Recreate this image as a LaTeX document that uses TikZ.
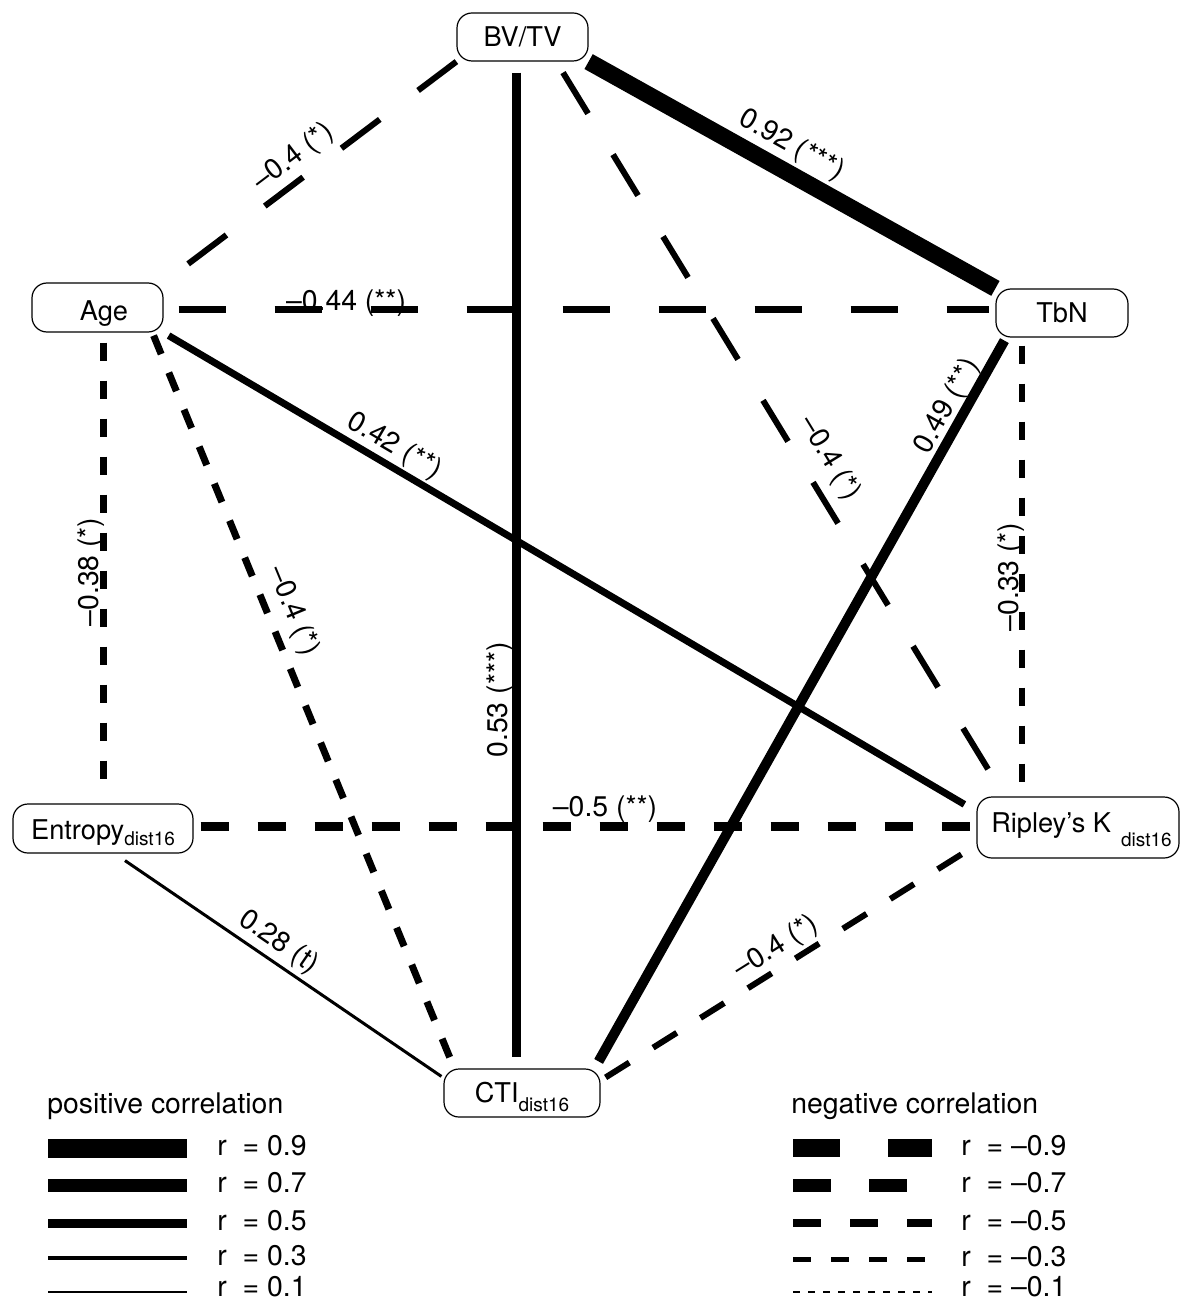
\documentclass[tikz,border=0pt]{standalone}
\usepackage{fontspec}
\setmainfont{TeX Gyre Heros}
\usetikzlibrary{calc}
\newcommand{\dsub}[1]{\raisebox{-#1}{\fontsize{9.5}{11}\selectfont dist16}}
\begin{document}
\begin{tikzpicture}[x=0.5pt,y=-0.5pt,
  box/.style={draw, line width=0.6pt, rounded corners=7.5pt, inner sep=0pt, text height=9.8pt, text depth=0pt, font=\fontsize{13.6}{16}\selectfont},
  lab/.style={inner sep=0pt, text height=10.2pt, text depth=0pt, font=\fontsize{14.2}{17}\selectfont},
  legtxt/.style={anchor=base west, inner sep=0pt, font=\fontsize{14.2}{17}\selectfont},
]
\useasboundingbox (0,0) rectangle (1181,1299);
% nodes
\node[box, minimum width=65.5pt, minimum height=24pt] (bv) at (522.5,37) {BV/TV};
\node[box, minimum width=65.5pt, minimum height=24.5pt] (age) at (97.5,307.5) {\hspace{6.5pt}\raisebox{-1.75pt}{Age}};
\node[box, minimum width=66pt, minimum height=24pt] (tbn) at (1062,313) {TbN\hspace{14.5pt}};
\node[box, minimum width=90pt, minimum height=24.5pt] (ent) at (103,828.5) {\raisebox{-0.75pt}{Entropy\dsub{3pt}}\hspace{5pt}};
\node[box, minimum width=101pt, minimum height=30.5pt] (rip) at (1078,827.5) {\hspace{3.5pt}\raisebox{2.25pt}{Ripley’s K\hspace{5pt}\dsub{7pt}}};
\node[box, minimum width=78pt, minimum height=24pt] (cti) at (522,1093) {CTI\dsub{4.5pt}\hspace{4.5pt}};
% edges
\draw[line width=3pt, dash pattern=on 24pt off 24pt] (bv.south west) -- (age.north east);
\draw[line width=8.5pt] (bv.south east) -- (tbn.north west);
\draw[line width=4.5pt] ($(bv.south)+(-6,11)$) -- ($(cti.north)+(-5.5,-11)$);
\draw[line width=3pt, dash pattern=on 24pt off 24pt] ($(bv.south)+(40.5,11)$) -- ($(rip.north west)+(13,-25)$);
\draw[line width=3.5pt, dash pattern=on 23.5pt off 24.5pt] ($(age.east)+(15,2.5)$) -- ($(tbn.west)+(-6,-3)$);
\draw[line width=3.5pt, dash pattern=on 9pt off 10pt] ($(age.south)+(6,10)$) -- ($(ent.north)+(0.5,-21)$);
\draw[line width=3.5pt, dash pattern=on 10pt off 10pt] ($(age.south east)+(-10,3)$) -- ($(cti.north west)+(8,-7)$);
\draw[line width=3.5pt] ($(age.south east)+(5,3)$) -- ($(rip.north west)+(-12,8)$);
\draw[line width=5pt] ($(tbn.south west)+(9,3)$) -- ($(cti.north east)+(-2,-7)$);
\draw[line width=2.75pt, dash pattern=on 9pt off 10pt] ($(tbn.south)+(-40,8)$) -- ($(rip.north)+(-56,-12)$);
\draw[line width=4.5pt, dash pattern=on 14pt off 14.5pt] ($(ent.east)+(7,-2.5)$) -- ($(rip.west)+(-2,-1.5)$);
\draw[line width=1.5pt] ($(ent.south)+(22,7)$) -- ($(cti.north west)+(-2,8)$);
\draw[line width=3pt, dash pattern=on 14pt off 14pt] ($(cti.north east)+(5,9)$) -- ($(rip.south west)+(-9,-8)$);
% edge labels
\node[lab, rotate=37.1] (l1) at (292,155) {–0.4 (*)};
\node[lab, rotate=-29.2] (l2) at (793,143) {0.92 (***)};
\node[lab, rotate=90] (l3) at (497,700) {0.53 (***)};
\node[lab, rotate=-58.6] (l4) at (832,457) {–0.4 (*)};
\node[lab] (l5) at (346,300) {–0.44 (**)};
\node[lab, rotate=90] (l6) at (88,572) {–0.38 (*)};
\node[lab, rotate=-67.6] (l7) at (296,610) {–0.4 (*)};
\node[lab, rotate=-30.5] (l8) at (396,444) {0.42 (**)};
\node[lab, rotate=60.6] (l9) at (945,405) {0.49 (**)};
\node[lab, rotate=90] (l10) at (1008,577) {–0.33 (*)};
\node[lab] (l11) at (605,806) {–0.5 (**)};
\node[lab, rotate=-34.4] (l12) at (280,940) {0.28 (t)};
\node[lab, rotate=32.1] (l13) at (775,945) {–0.4 (*)};
% legend
\node[legtxt] (pt) at (47,1113) {positive correlation};
\node[legtxt] (nt) at (791,1113) {negative correlation};
\draw[line width=9.5pt] (48,1148) -- (187,1148);
\draw[line width=6.5pt] (48,1185) -- (187,1185);
\draw[line width=4.5pt] (48,1223) -- (187,1223);
\draw[line width=2.25pt] (48,1258) -- (187,1258);
\draw[line width=0.75pt] (48,1292) -- (187,1292);
\node[legtxt] (p1) at (217,1155.5) {r\ \ = 0.9};
\node[legtxt] (p2) at (217,1192.5) {r\ \ = 0.7};
\node[legtxt] (p3) at (217,1230.5) {r\ \ = 0.5};
\node[legtxt] (p4) at (217,1265.5) {r\ \ = 0.3};
\node[legtxt] (p5) at (217,1296.5) {r\ \ = 0.1};
\draw[line width=9pt, dash pattern=on 23.5pt off 24pt] (793,1148) -- (932,1148);
\draw[line width=6.5pt, dash pattern=on 19pt off 19pt] (793,1185) -- (932,1185);
\draw[line width=4pt, dash pattern=on 14pt off 14.5pt] (793,1223) -- (932,1223);
\draw[line width=2.5pt, dash pattern=on 9pt off 10pt] (793,1259) -- (932,1259);
\draw[line width=0.75pt, dash pattern=on 3.5pt off 4pt] (793,1292) -- (932,1292);
\node[legtxt] (n1) at (961,1155.5) {r\ \ = –0.9};
\node[legtxt] (n2) at (961,1192.5) {r\ \ = –0.7};
\node[legtxt] (n3) at (961,1230.5) {r\ \ = –0.5};
\node[legtxt] (n4) at (961,1266.5) {r\ \ = –0.3};
\node[legtxt] (n5) at (961,1296.5) {r\ \ = –0.1};
\end{tikzpicture}
\end{document}
